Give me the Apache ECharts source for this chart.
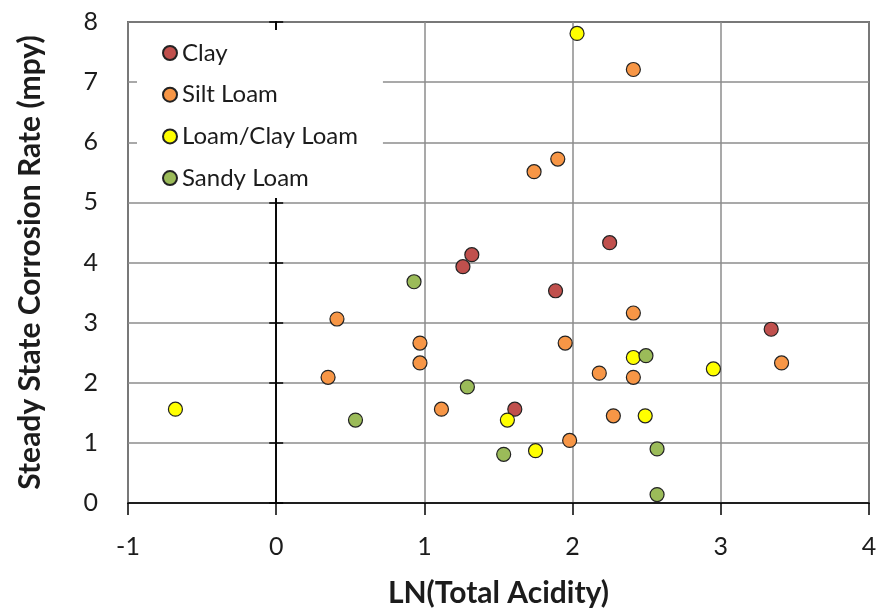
<!DOCTYPE html>
<html>
<head>
<meta charset="utf-8">
<script src="https://cdn.jsdelivr.net/npm/echarts@6/dist/echarts.min.js"></script>
<style>
  html, body { margin: 0; padding: 0; background: #fff; }
  #chart { width: 891px; height: 609px; }
</style>
</head>
<body>
<div id="chart"></div>
<script>
// Soil corrosion survey: steady state corrosion rate vs. ln(total acidity), by soil texture
const soilTypes = ['Clay', 'Silt Loam', 'Loam/Clay Loam', 'Sandy Loam'];
const soilColors = ['#C0504D', '#F79646', '#FFFF00', '#9BBB59'];

// [LN(Total Acidity), corrosion rate (mpy)]
const clay = [
  [1.26, 3.93], [1.32, 4.13], [2.25, 4.33], [1.885, 3.53], [3.34, 2.89], [1.61, 1.56]
];
const siltLoam = [
  [2.41, 7.21], [1.90, 5.72], [1.74, 5.51], [0.41, 3.06], [0.97, 2.66], [0.97, 2.33],
  [0.35, 2.09], [1.115, 1.56], [2.41, 3.16], [1.95, 2.66], [3.41, 2.33], [2.18, 2.16],
  [2.41, 2.09], [2.275, 1.45], [1.98, 1.04]
];
const loamClayLoam = [
  [2.03, 7.81], [-0.68, 1.56], [2.41, 2.42], [2.95, 2.23], [1.56, 1.38], [2.49, 1.45], [1.75, 0.87]
];
const sandyLoam = [
  [0.93, 3.68], [0.535, 1.38], [2.495, 2.45], [1.29, 1.93], [2.57, 0.90], [1.535, 0.81], [2.57, 0.14]
];
const seriesData = [clay, siltLoam, loamClayLoam, sandyLoam];

const xTicks = { min: -1, max: 4, interval: 1 };
const yTicks = { min: 0, max: 8, interval: 1 };

const FONT = 'Lato';
const TEXT = '#1c1c1c';

const chart = echarts.init(document.getElementById('chart'), null, { renderer: 'canvas' });

// y axis crossing at x = 0, with cross ticks (one axis for each tick side)
function zeroAxis(inside) {
  return {
    type: 'value',
    min: yTicks.min, max: yTicks.max, interval: yTicks.interval,
    position: 'left',
    axisLine: { show: true, onZero: true, onZeroAxisIndex: 0, lineStyle: { color: '#000', width: 1.5 } },
    axisTick: { show: true, inside: inside, length: 7, lineStyle: { color: '#000', width: 1.5 } },
    axisLabel: { show: false },
    splitLine: { show: false }
  };
}

chart.setOption({
  animation: false,
  backgroundColor: '#fff',
  grid: {
    left: 128, right: 22, top: 22, bottom: 106,
    containLabel: false,
    outerBoundsMode: 'none',
    show: true, borderColor: '#000', borderWidth: 1.5, backgroundColor: 'transparent'
  },
  legend: {
    orient: 'vertical',
    left: 137, top: 30,
    padding: [11, 25, 8, 25],
    backgroundColor: '#fff',
    itemWidth: 14, itemHeight: 14, itemGap: 17.7,
    icon: 'circle',
    data: soilTypes,
    textStyle: { fontFamily: FONT, fontSize: 24, color: TEXT },
    z: 10
  },
  xAxis: {
    type: 'value',
    min: xTicks.min, max: xTicks.max, interval: xTicks.interval,
    name: 'LN(Total Acidity)',
    nameLocation: 'middle',
    nameGap: 75,
    nameTextStyle: { fontFamily: FONT, fontSize: 30, fontWeight: 'bold', color: TEXT },
    axisLine: { show: true, onZero: false, lineStyle: { color: '#000', width: 1.5 } },
    axisTick: { show: true, length: 12, lineStyle: { color: '#000', width: 1.5 } },
    axisLabel: { fontFamily: FONT, fontSize: 25, color: TEXT, margin: 31 },
    splitLine: { show: true, lineStyle: { color: '#8c8c8c', width: 1.5 } }
  },
  yAxis: [
    {
      type: 'value',
      min: yTicks.min, max: yTicks.max, interval: yTicks.interval,
      position: 'left',
      name: 'Steady State Corrosion Rate (mpy)',
      nameLocation: 'middle',
      nameGap: 83,
      nameRotate: 90,
      nameTextStyle: { fontFamily: FONT, fontSize: 30, fontWeight: 'bold', color: TEXT },
      axisLine: { show: false, onZero: false },
      axisTick: { show: false },
      axisLabel: { fontFamily: FONT, fontSize: 25, color: TEXT, margin: 30 },
      splitLine: { show: true, lineStyle: { color: '#8c8c8c', width: 1.5 } }
    },
    zeroAxis(true),
    zeroAxis(false)
  ],
  series: seriesData.map((data, i) => ({
    name: soilTypes[i],
    type: 'scatter',
    data: data,
    symbol: 'circle',
    symbolSize: 14,
    itemStyle: { color: soilColors[i], borderColor: '#222', borderWidth: 1.2, opacity: 1 },
    z: 5
  }))
});
</script>
</body>
</html>
